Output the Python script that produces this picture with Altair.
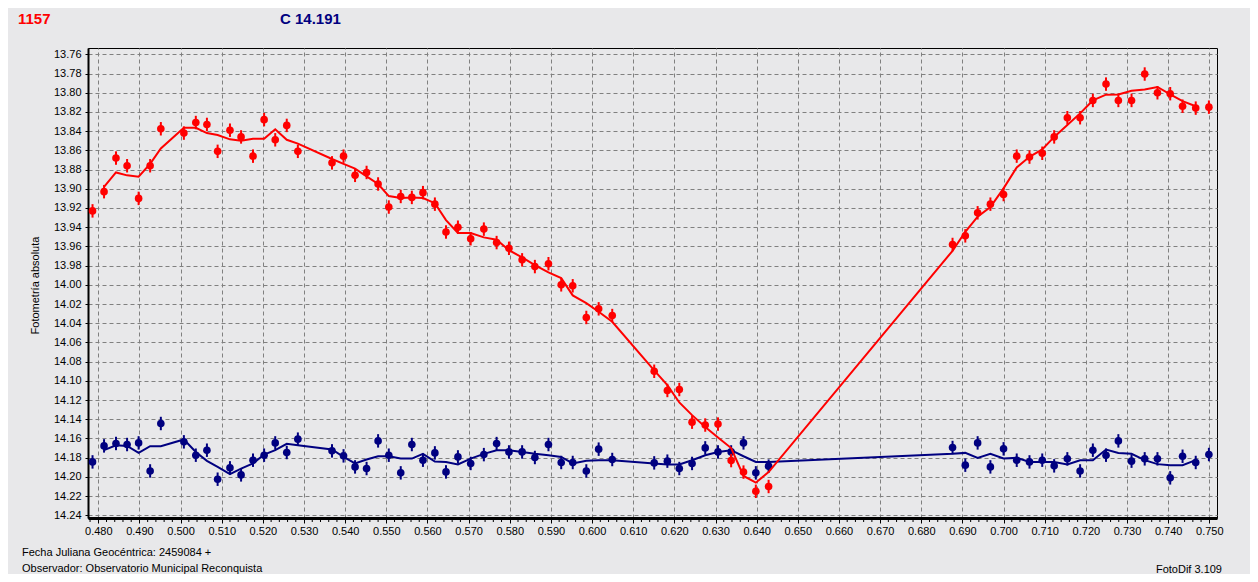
import altair as alt
import pandas as pd

# Phase (fraction of JD after 2459084)
phase = [
    0.4786, 0.4814, 0.4843, 0.4870, 0.4898, 0.4926, 0.4952, 0.5008, 0.5037, 0.5064,
    0.5090, 0.5120, 0.5147, 0.5176, 0.5203, 0.5230, 0.5258, 0.5285, 0.5368, 0.5396,
    0.5424, 0.5452, 0.5480, 0.5506, 0.5535, 0.5562, 0.5589, 0.5618, 0.5645, 0.5674,
    0.5705, 0.5737, 0.5768, 0.5798, 0.5830, 0.5861, 0.5894, 0.5925, 0.5953, 0.5986,
    0.6016, 0.6049, 0.6151, 0.6183, 0.6212, 0.6243, 0.6275, 0.6306, 0.6338, 0.6368,
    0.6398, 0.6429, 0.6876, 0.6907, 0.6937, 0.6968, 0.7000, 0.7032, 0.7063, 0.7094,
    0.7123, 0.7155, 0.7186, 0.7217, 0.7249, 0.7279, 0.7311, 0.7343, 0.7374, 0.7405,
    0.7435, 0.7467, 0.7499,
]

# Variable star (1157), red
var_mag = [
    13.923, 13.903, 13.868, 13.876, 13.910, 13.876, 13.8375, 13.842, 13.831, 13.833,
    13.861, 13.839, 13.846, 13.866, 13.828, 13.849, 13.834, 13.861, 13.873, 13.866,
    13.886, 13.883, 13.895, 13.919, 13.908, 13.909, 13.904, 13.916, 13.945, 13.940,
    13.952, 13.942, 13.956, 13.962, 13.974, 13.981, 13.978, 14.000, 14.001, 14.034,
    14.025, 14.032, 14.090, 14.110, 14.109, 14.143, 14.146, 14.145, 14.183, 14.195,
    14.215, 14.210, 13.958, 13.949, 13.925, 13.916, 13.906, 13.866, 13.867, 13.863,
    13.846, 13.826, 13.826, 13.808, 13.791, 13.808, 13.808, 13.7805, 13.800, 13.801,
    13.814, 13.816, 13.815,
]
var_fit = [
    None, 13.898, 13.883, 13.886, 13.8875, 13.874, 13.858, 13.8365, 13.8365, 13.842,
    13.844, 13.8485, 13.850, 13.848, 13.848, 13.838, 13.849, 13.853, 13.869, 13.874,
    13.879, 13.887, 13.895, 13.9076, 13.9097, 13.909, 13.9097, 13.915, 13.9326, 13.946,
    13.946, 13.9506, 13.953, 13.964, 13.9715, 13.9795, 13.987, 13.993, 14.011, 14.019,
    14.028, 14.0385, 14.089, 14.1045, 14.1225, 14.1357, 14.148, 14.159, 14.170, 14.199,
    14.206, 14.195, 13.9646, 13.9448, 13.929, 13.919, 13.8996, 13.8777, 13.8667, 13.859,
    13.846, 13.8337, 13.8215, 13.808, 13.802, 13.8017, 13.798, 13.7965, 13.794, 13.8017,
    13.8087, 13.814, None,
]

# Comparison star (C 14.191), navy
comp_mag = [
    14.1844, 14.1677, 14.1652, 14.1663, 14.1646, 14.1938, 14.1444, 14.1635, 14.1774, 14.1722,
    14.2024, 14.1906, 14.1979, 14.1826, 14.1774, 14.1646, 14.1746, 14.1607, 14.1729, 14.1781,
    14.1896, 14.1913, 14.1625, 14.1774, 14.1958, 14.1663, 14.1826, 14.1750, 14.1948, 14.1792,
    14.1860, 14.1768, 14.1653, 14.1740, 14.1740, 14.1798, 14.1663, 14.1850, 14.1850, 14.1938,
    14.1711, 14.1819, 14.1854, 14.1836, 14.1913, 14.1860, 14.1698, 14.1740, 14.1740, 14.1646,
    14.1958, 14.1888, 14.1694, 14.1878, 14.1646, 14.1896, 14.1708, 14.1826, 14.1844, 14.1826,
    14.1885, 14.1812, 14.1938, 14.1722, 14.1774, 14.1625, 14.1836, 14.1812, 14.1812, 14.2010,
    14.1785, 14.1850, 14.1767,
]
comp_fit = [
    None, 14.1722, 14.1670, 14.1677, 14.175, 14.168, 14.168, 14.161, 14.174, 14.1833,
    14.1896, 14.1972, 14.1913, 14.186, 14.1767, 14.1722, 14.1656, 14.167, 14.1715, 14.1792,
    14.186, 14.1819, 14.1785, 14.1785, 14.1809, 14.1809, 14.1760, 14.184, 14.1844, 14.1871,
    14.1809, 14.1760, 14.1722, 14.1722, 14.174, 14.176, 14.1774, 14.1792, 14.186, 14.1833,
    14.1826, 14.1826, 14.186, 14.187, 14.187, 14.1826, 14.1774, 14.174, 14.1722, 14.1785,
    14.1844, 14.1844, 14.1760, 14.1750, 14.1802, 14.1760, 14.1809, 14.1802, 14.1844, 14.1844,
    14.1844, 14.1871, 14.1826, 14.1826, 14.1715, 14.175, 14.176, 14.1826, 14.1867, 14.1878,
    14.1878, 14.1826, None,
]
mag_err = 0.007

# Tick labels
x_major = [k / 1000 for k in range(480, 751, 10)]
x_minor = [k / 1000 for k in range(478, 751, 2) if k % 10 != 0]
y_ticks = [k / 100 for k in range(1376, 1425, 2)]

RED = "#FF0000"
NAVY = "#000080"
BG = "#E8E8EA"
FONT = "Liberation Sans"

df = pd.DataFrame(dict(phase=phase, var_mag=var_mag, var_fit=var_fit,
                       comp_mag=comp_mag, comp_fit=comp_fit))

xs = alt.Scale(domain=[0.4775, 0.75187], nice=False, zero=False)
ys = alt.Scale(domain=[13.7534, 14.2428], reverse=True, nice=False, zero=False)

x_axis = alt.Axis(values=x_major, format=".3f", title=None, labelOverlap=False,
                  labelFlush=False, tickSize=5, labelPadding=2, domainWidth=3)
y_axis = alt.Axis(values=y_ticks, format=".2f", title="Fotometría absoluta",
                  labelOverlap=False, labelFlush=False, tickSize=3, labelPadding=4,
                  domainWidth=2, titleX=-53, titleY=237, titleAngle=270,
                  titleAlign="center", titleBaseline="middle",
                  titleFontWeight="normal", titleFontSize=11, titleFont=FONT,
                  titleColor="black")

X = alt.X("phase:Q", scale=xs, axis=x_axis)

base = alt.Chart(df)


def series(mag, fit, color):
    line = base.mark_line(color=color, strokeWidth=2).encode(
        x=X, y=alt.Y(f"{fit}:Q", scale=ys, axis=y_axis))
    err = base.transform_calculate(
        lo=f"datum.{mag} - {mag_err}", hi=f"datum.{mag} + {mag_err}"
    ).mark_rule(color=color, strokeWidth=2).encode(
        x=X, y=alt.Y("lo:Q", scale=ys, axis=y_axis), y2="hi:Q")
    pts = base.mark_point(filled=True, shape="circle", size=58, opacity=1,
                          color=color).encode(
        x=X, y=alt.Y(f"{mag}:Q", scale=ys, axis=y_axis))
    return [line, err, pts]


minor = alt.Chart(pd.DataFrame({"phase": x_minor})).mark_rule(
    color="black", strokeWidth=1).encode(
    x=X, y=alt.value(471), y2=alt.value(474))


def label(txt, x, y, color="black", size=11, weight="normal", align="left"):
    return alt.Chart(alt.Data(values=[{}])).mark_text(
        text=txt, color=color, fontSize=size, fontWeight=weight, font=FONT,
        align=align, baseline="middle").encode(x=alt.value(x), y=alt.value(y))


layers = (series("comp_mag", "comp_fit", NAVY)
          + series("var_mag", "var_fit", RED)
          + [minor,
             label("1157", -70, -29, RED, 15, "bold"),
             label("C 14.191", 192, -29, NAVY, 15, "bold"),
             label("Fecha Juliana Geocéntrica: 2459084 +", -66, 505),
             label("Observador: Observatorio Municipal Reconquista", -66, 521),
             label("FotoDif 3.109", 1134, 522, align="right")])

chart = alt.layer(*layers).properties(
    width=1129, height=470,
    autosize=alt.AutoSizeParams(type="none"),
    padding={"left": 80, "top": 40, "right": 33, "bottom": 56},
    background=BG,
).configure_view(
    stroke="black", strokeWidth=1, fill=BG
).configure_axis(
    labelFont=FONT, labelFontSize=11, labelColor="black",
    tickColor="black", tickWidth=1, domainColor="black",
    grid=True, gridColor="#808080", gridDash=[4, 3], gridWidth=1,
)

chart.save("out.html", embed_options={"renderer": "svg", "actions": False})
